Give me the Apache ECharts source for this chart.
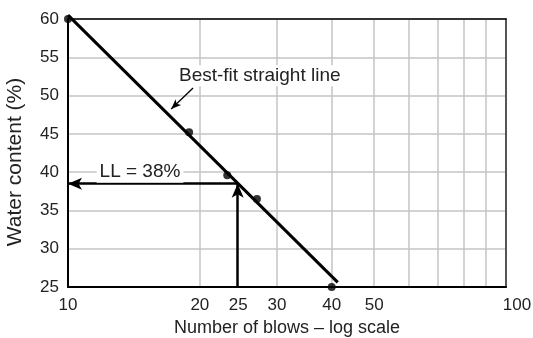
<!DOCTYPE html>
<html>
<head>
<meta charset="utf-8">
<script src="https://cdn.jsdelivr.net/npm/echarts@6/dist/echarts.min.js"></script>
<style>html,body{margin:0;padding:0;background:#fff}#c{width:533px;height:338px}</style>
</head>
<body>
<div id="c"></div>
<script>
// ---- data ----
const xTickLabels = [10, 20, 25, 30, 40, 50, 100];
const xGridValues = [10, 20, 30, 40, 50, 60, 70, 80, 90, 100];
const blows = [10, 18.9, 23.1, 27.0, 40];
const waterContent = [60, 45.2, 39.6, 36.5, 25];
const fitBlows = [10, 41.3];
const fitWater = [60.5, 25.6];
const llBlows = 24.4;
const llWater = 38.5;
const yMin = 25, yMax = 60, yStep = 5;
const bestFitLabel = 'Best-fit straight line';
const llLabel = 'LL = 38%';
const bestFitLabelPos = [27.4, 52.6];
const bestFitArrowFrom = [19.3, 51.0];
const bestFitArrowTo = [17.2, 48.25];
const llLabelPos = [14.6, 40.0];

const FONT = 'Liberation Sans';
const chart = echarts.init(document.getElementById('c'), null, {renderer: 'canvas'});

const points = blows.map((b, i) => [b, waterContent[i]]);
const fit = fitBlows.map((b, i) => [b, fitWater[i]]);

chart.setOption({
  animation: false,
  backgroundColor: '#fff',
  grid: {left: 68, right: 27, top: 19, bottom: 51, containLabel: false, outerBoundsMode: 'none'},
  xAxis: [{
    type: 'log', logBase: 10, min: 10, max: 100,
    name: 'Number of blows – log scale', nameLocation: 'middle', nameGap: 32,
    nameTextStyle: {fontFamily: FONT, fontSize: 18, color: '#222'},
    axisLine: {show: true, lineStyle: {color: '#000', width: 2}},
    axisTick: {show: false, customValues: xGridValues},
    axisLabel: {
      customValues: xTickLabels, margin: 10,
      fontFamily: FONT, fontSize: 17, color: '#222',
      formatter: function (v) {
        const r = Math.round(v);
        if (r === 25) return '{a|25}';
        if (r === 100) return '{b|100}';
        return String(r);
      },
      rich: {
        a: {fontFamily: FONT, fontSize: 17, color: '#222', padding: [0, 8, 0, 0]},
        b: {fontFamily: FONT, fontSize: 17, color: '#222', padding: [0, 0, 0, 22]}
      }
    },
    splitLine: {show: true, lineStyle: {color: '#c4c4c4', width: 1.5}}
  }, {
    type: 'log', logBase: 10, min: 10, max: 100, position: 'top',
    axisLine: {show: true, lineStyle: {color: '#000', width: 1.5}},
    axisTick: {show: false}, axisLabel: {show: false}, splitLine: {show: false}
  }],
  yAxis: [{
    type: 'value', min: yMin, max: yMax, interval: yStep,
    name: 'Water content (%)', nameLocation: 'middle', nameGap: 42,
    nameTextStyle: {fontFamily: FONT, fontSize: 21, color: '#222', padding: [0, 18, 0, 0]},
    axisLine: {show: true, lineStyle: {color: '#000', width: 2}},
    axisTick: {show: false},
    axisLabel: {margin: 9, fontFamily: FONT, fontSize: 17, color: '#222'},
    splitLine: {show: true, lineStyle: {color: '#c4c4c4', width: 1.5}}
  }, {
    type: 'value', min: yMin, max: yMax, interval: yStep, position: 'right',
    axisLine: {show: true, lineStyle: {color: '#555', width: 2}},
    axisTick: {show: false}, axisLabel: {show: false}, splitLine: {show: false}
  }],
  series: [
    {
      type: 'line', data: fit, clip: false, showSymbol: false, symbol: 'none',
      lineStyle: {color: '#000', width: 3}, z: 5,
      markPoint: {
        symbol: 'rect', symbolSize: 0, silent: true,
        label: {
          show: true, position: 'inside', fontFamily: FONT, fontSize: 19, color: '#222',
          backgroundColor: '#fff', padding: [1, 3],
          formatter: function (p) { return p.name; }
        },
        data: [
          {name: bestFitLabel, coord: bestFitLabelPos},
          {name: llLabel, coord: llLabelPos}
        ]
      },
      markLine: {
        silent: true, symbol: ['none', 'arrow'], symbolSize: [9, 14],
        label: {show: false},
        lineStyle: {color: '#000', width: 2.5, type: 'solid'},
        data: [
          [{coord: [llBlows, llWater]}, {coord: [fitBlows[0], llWater]}],
          [{coord: [llBlows, yMin]}, {coord: [llBlows, llWater]}],
          [{coord: bestFitArrowFrom, lineStyle: {width: 1.3}, symbolSize: [6, 10]},
           {coord: bestFitArrowTo, symbolSize: [6, 10]}]
        ]
      }
    },
    {
      type: 'scatter', data: points, clip: false, symbol: 'circle', symbolSize: 8,
      itemStyle: {color: '#000'}, z: 6
    }
  ]
});
</script>
</body>
</html>
